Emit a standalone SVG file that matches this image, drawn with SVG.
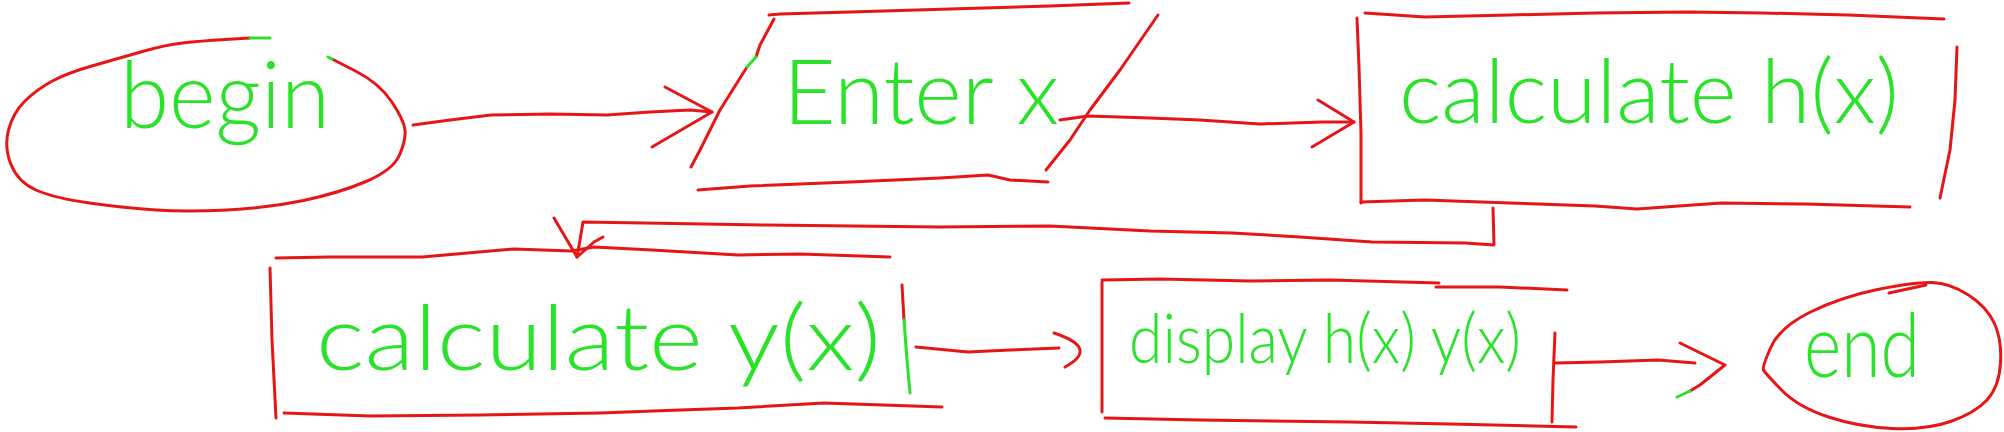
<svg xmlns="http://www.w3.org/2000/svg" width="2004" height="432" viewBox="0 0 2004 432">
<style>
.r{fill:none;stroke:#e61616;stroke-width:3;stroke-linejoin:round;stroke-linecap:round}
.g{fill:none;stroke:#2ae22a;stroke-width:3;stroke-linejoin:round;stroke-linecap:round}
.t{fill:#2ae22a;font-family:Lato,"Open Sans","Liberation Sans",sans-serif;font-weight:300}
</style>
<rect width="2004" height="432" fill="#ffffff"/>
<g id="node-begin">
<path class="r" d="M 250,38 L 225,39.5 Q 200,41 182.5,43 Q 165,45 142.5,51.5 Q 120,58 93.5,65.5 Q 67,73 51.5,81.5 Q 36,90 24.5,101.5 Q 13,113 8.5,130 Q 4,147 11,164.5 Q 18,182 36,190 Q 54,198 89.5,203 Q 125,208 156,210 Q 187,212 227.5,210 Q 268,208 303.5,200.5 Q 339,193 366,181.5 Q 393,170 399.5,155 Q 406,140 405,130 Q 404,120 391.5,101.5 Q 379,83 355.5,71 L 332,59"/>
<path class="g" d="M 250,38 L 270,38 M 328,57 L 332,59"/>
<text class="t" x="120" y="128" font-size="92" textLength="210" lengthAdjust="spacingAndGlyphs">begin</text>
</g>
<g id="node-enter">
<path class="r" d="M 769,15 L 780,14 L 850,12 L 950,9 L 1050,6 L 1129,3"/>
<path class="r" d="M 774,19 L 760,45 L 756,57 M 747,67 L 720,110 L 700,150 L 691,167"/>
<path class="g" d="M 756,57 L 747,67"/>
<path class="r" d="M 1158,15 L 1120,70 L 1090,110 L 1070,140 L 1046,170"/>
<path class="r" d="M 698,190 L 750,186 L 850,182 L 940,178 L 988,175 L 1010,180 L 1048,182"/>
<text class="t" x="783" y="124" font-size="90" textLength="276" lengthAdjust="spacingAndGlyphs">Enter x</text>
</g>
<g id="node-calc-h">
<path class="r" d="M 1365,13 L 1425,17 L 1510,15 L 1595,13 L 1687,12 L 1763,13 L 1848,15 L 1944,19"/>
<path class="r" d="M 1357,18 L 1359,67 L 1361,133 L 1361,203"/>
<path class="r" d="M 1957,47 L 1955,100 L 1950,150 L 1940,198"/>
<path class="r" d="M 1361,202 L 1425,200 L 1510,203 L 1595,206 L 1637,209 L 1721,203 L 1806,204 L 1910,207"/>
<text class="t" x="1399" y="123" font-size="88" textLength="500" lengthAdjust="spacingAndGlyphs">calculate h(x)</text>
</g>
<g id="node-calc-y">
<path class="r" d="M 276,258 L 330,257 L 422,257 L 514,249 L 571,251 L 594,247 L 652,250 L 738,255 L 800,254 L 890,257"/>
<path class="r" d="M 270,268 L 272,340 L 276,418"/>
<path class="r" d="M 284,413 L 370,416 L 480,415 L 600,413 L 680,410 L 738,408 L 824,403 L 942,407"/>
<path class="r" d="M 902,285 L 904,320"/>
<path class="g" d="M 904,320 L 907,360 L 910,393"/>
<text class="t" x="316" y="370" font-size="90" textLength="565" lengthAdjust="spacingAndGlyphs">calculate y(x)</text>
</g>
<g id="node-display">
<path class="r" d="M 1102,280 L 1160,279 L 1250,281 L 1330,280 L 1439,283 M 1436,287 L 1500,287 L 1567,290"/>
<path class="r" d="M 1102,282 L 1102,412"/>
<path class="r" d="M 1105,418 L 1200,420 L 1350,422 L 1450,424 L 1576,427"/>
<path class="r" d="M 1555,333 L 1553,380 L 1552,422"/>
<text class="t" x="1129" y="363" font-size="68" textLength="392" lengthAdjust="spacingAndGlyphs">display h(x) y(x)</text>
</g>
<g id="node-end">
<path class="r" d="M 1771,347 Q 1780,327 1810.5,312 Q 1841,297 1877.5,289.5 Q 1914,282 1932,282.5 Q 1950,283 1968.5,295 Q 1987,307 1994.5,323.5 Q 2002,340 2000.5,363.5 Q 1999,387 1987,400 Q 1975,413 1950.5,421.5 Q 1926,430 1892.5,428.5 Q 1859,427 1828.5,417 Q 1798,407 1781.5,390 Q 1765,373 1763.5,370 Q 1762,367 1771,347"/>
<path class="r" d="M 1889,293 L 1926,285"/>
<text class="t" x="1804" y="377" font-size="88" textLength="116" lengthAdjust="spacingAndGlyphs">end</text>
</g>
<g id="connectors">
<path class="r" d="M 413,125 L 450,120 L 491,115 L 550,114 L 607,115 L 650,112 L 690,110 L 712,112"/>
<path class="r" d="M 665,87 L 712,112 L 652,147"/>
<path class="r" d="M 1060,120 L 1088,116 L 1150,118 L 1200,120 L 1260,124 L 1323,122 L 1354,122"/>
<path class="r" d="M 1318,100 L 1354,122 L 1312,147"/>
<path class="r" d="M 1493,208 L 1494,245 L 1465,243 L 1372,242 L 1300,237 L 1232,233 L 1150,231 L 1050,226 L 939,227 L 767,225 L 583,222 L 580,240 L 577,257"/>
<path class="r" d="M 554,218 L 577,257 L 594,242 L 603,237"/>
<path class="r" d="M 916,347 L 968,352 L 1010,350 L 1059,348"/>
<path class="r" d="M 1054,333 Q 1100,348 1065,367"/>
<path class="r" d="M 1555,363 L 1600,362 L 1658,360 L 1695,363"/>
<path class="r" d="M 1680,343 L 1725,365 L 1700,385 L 1690,391"/>
<path class="g" d="M 1690,391 L 1677,397"/>
</g>
</svg>
